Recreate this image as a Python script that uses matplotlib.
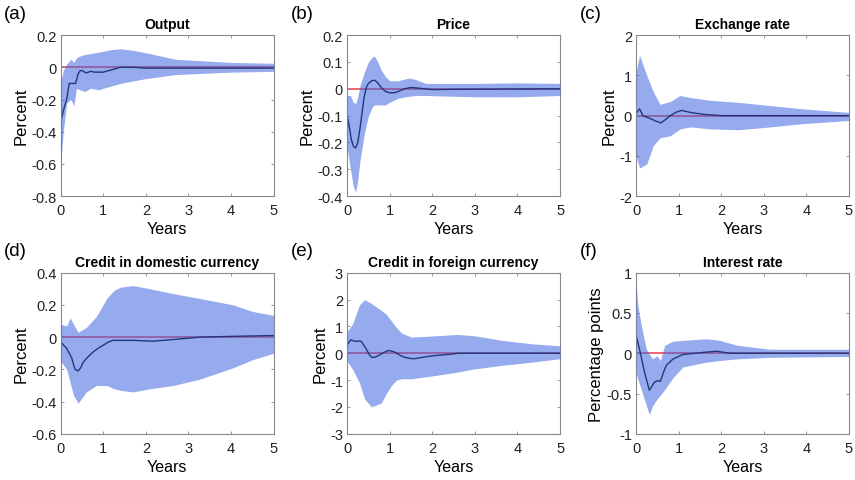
import numpy as np
import matplotlib.pyplot as plt

plt.rcParams['font.family'] = ['Liberation Sans', 'DejaVu Sans']

# Impulse responses (years after shock) with confidence bands
out_x = [0, 0.06, 0.14, 0.2, 0.3, 0.35, 0.41, 0.46, 0.5, 0.6, 0.7, 0.8, 1.0, 1.2, 1.4, 1.7, 2.0, 5.0]
out_y = [-0.34, -0.27, -0.2, -0.1, -0.1, -0.1, -0.04, -0.02, -0.02, -0.035, -0.025, -0.03, -0.03, -0.015, 0.0, 0.0, -0.005, -0.005]
out_bx = [0, 0.06, 0.14, 0.24, 0.31, 0.37, 0.45, 0.57, 0.7, 0.9, 1.0, 1.2, 1.4, 1.7, 2.0, 2.7, 4.0, 5.0]
out_hi = [-0.09, -0.02, 0.02, 0.05, 0.03, 0.06, 0.07, 0.08, 0.085, 0.095, 0.1, 0.11, 0.115, 0.105, 0.09, 0.05, 0.03, 0.025]
out_lo = [-0.6, -0.4, -0.22, -0.2, -0.24, -0.13, -0.14, -0.15, -0.13, -0.14, -0.13, -0.115, -0.1, -0.085, -0.07, -0.045, -0.03, -0.025]

prc_x = [0, 0.05, 0.1, 0.15, 0.2, 0.25, 0.3, 0.35, 0.4, 0.45, 0.5, 0.58, 0.65, 0.72, 0.8, 0.9, 1.0, 1.1,
         1.2, 1.35, 1.5, 1.7, 2.0, 2.5, 5.0]
prc_y = [-0.1, -0.14, -0.19, -0.215, -0.22, -0.2, -0.15, -0.09, -0.03, 0.005, 0.02, 0.03, 0.032, 0.022,
         0.005, -0.01, -0.015, -0.015, -0.01, 0.0, 0.005, 0.002, -0.003, -0.002, 0.0]
prc_bx = [0, 0.08, 0.14, 0.2, 0.25, 0.3, 0.4, 0.5, 0.6, 0.65, 0.72, 0.8, 0.9, 1.0, 1.2, 1.45, 1.6, 1.85,
          3.0, 4.0, 5.0]
prc_hi = [-0.025, -0.025, -0.05, -0.055, -0.03, 0.01, 0.06, 0.1, 0.12, 0.12, 0.1, 0.07, 0.045, 0.03,
          0.03, 0.04, 0.035, 0.02, 0.02, 0.022, 0.02]
prc_lo = [-0.22, -0.3, -0.36, -0.385, -0.34, -0.27, -0.17, -0.1, -0.065, -0.06, -0.06, -0.06, -0.06,
          -0.05, -0.035, -0.028, -0.025, -0.025, -0.03, -0.03, -0.025]

fx_x = [0, 0.08, 0.16, 0.33, 0.45, 0.58, 0.7, 0.8, 0.95, 1.07, 1.27, 1.6, 2.0, 5.0]
fx_y = [0.05, 0.17, 0.0, -0.07, -0.13, -0.18, -0.09, 0.0, 0.09, 0.13, 0.08, 0.03, 0.0, 0.0]
fx_bx = [0, 0.08, 0.25, 0.4, 0.56, 0.8, 1.03, 1.27, 1.75, 2.4, 3.15, 3.9, 5.0]
fx_hi = [1.1, 1.5, 1.0, 0.6, 0.28, 0.35, 0.5, 0.45, 0.38, 0.33, 0.25, 0.17, 0.08]
fx_lo = [-1.0, -1.3, -1.2, -0.75, -0.55, -0.5, -0.33, -0.28, -0.33, -0.35, -0.28, -0.2, -0.12]

dom_x = [0, 0.14, 0.26, 0.3, 0.34, 0.41, 0.47, 0.53, 0.65, 0.77, 0.9, 1.0, 1.12, 1.23, 1.7, 2.17, 2.64,
         3.27, 4.05, 5.0]
dom_y = [-0.03, -0.07, -0.13, -0.17, -0.2, -0.21, -0.19, -0.155, -0.12, -0.09, -0.065, -0.05, -0.03,
         -0.02, -0.02, -0.025, -0.015, 0.0, 0.005, 0.01]
dom_bx = [0, 0.14, 0.22, 0.3, 0.41, 0.6, 0.84, 0.95, 1.08, 1.25, 1.4, 1.7, 2.1, 2.64, 3.27, 4.05, 4.5, 5.0]
dom_hi = [0.08, 0.07, 0.12, 0.08, 0.03, 0.06, 0.13, 0.18, 0.24, 0.29, 0.31, 0.32, 0.3, 0.27, 0.24, 0.2,
          0.16, 0.135]
dom_lo = [-0.15, -0.2, -0.28, -0.36, -0.41, -0.34, -0.3, -0.3, -0.3, -0.32, -0.33, -0.34, -0.32, -0.3,
          -0.26, -0.19, -0.14, -0.1]

for_x = [0, 0.08, 0.17, 0.33, 0.45, 0.52, 0.58, 0.65, 0.72, 0.85, 0.96, 1.05, 1.12, 1.25, 1.35, 1.5,
         1.59, 1.98, 2.46, 2.6, 5.0]
for_y = [0.3, 0.5, 0.45, 0.45, 0.15, -0.05, -0.15, -0.15, -0.1, 0.02, 0.1, 0.08, 0.04, -0.08, -0.15,
         -0.2, -0.2, -0.1, -0.03, 0.0, 0.0]
for_bx = [0, 0.13, 0.29, 0.41, 0.57, 0.8, 0.92, 1.04, 1.16, 1.28, 1.51, 2.06, 2.6, 3.0, 3.64, 4.35, 5.0]
for_hi = [0.8, 1.1, 1.8, 2.0, 1.85, 1.6, 1.45, 1.2, 0.95, 0.75, 0.6, 0.65, 0.7, 0.65, 0.48, 0.35, 0.28]
for_lo = [-0.3, -0.6, -1.1, -1.7, -2.0, -1.85, -1.5, -1.2, -1.0, -0.95, -0.95, -0.83, -0.7, -0.58, -0.45,
          -0.33, -0.2]

int_x = [0, 0.08, 0.2, 0.31, 0.43, 0.51, 0.57, 0.64, 0.71, 0.87, 1.1, 1.57, 1.89, 2.2, 5.0]
int_y = [0.22, 0.05, -0.24, -0.46, -0.36, -0.34, -0.35, -0.24, -0.15, -0.07, -0.015, 0.01, 0.025, 0.0, 0.0]
int_bx = [0, 0.04, 0.12, 0.24, 0.31, 0.39, 0.49, 0.57, 0.67, 0.87, 1.1, 1.65, 1.97, 2.36, 3.15, 5.0]
int_hi = [0.85, 0.6, 0.35, 0.05, -0.01, -0.07, -0.03, -0.09, 0.1, 0.15, 0.16, 0.18, 0.16, 0.1, 0.05, 0.05]
int_lo = [-0.24, -0.32, -0.45, -0.65, -0.76, -0.65, -0.57, -0.52, -0.45, -0.3, -0.17, -0.11, -0.09, -0.07,
          -0.05, -0.04]

panels = [
    ('(a)', 'Output', 'Percent', out_x, out_y, out_bx, out_hi, out_lo,
     (-0.8, 0.2), [-0.8, -0.6, -0.4, -0.2, 0, 0.2]),
    ('(b)', 'Price', 'Percent', prc_x, prc_y, prc_bx, prc_hi, prc_lo,
     (-0.4, 0.2), [-0.4, -0.3, -0.2, -0.1, 0, 0.1, 0.2]),
    ('(c)', 'Exchange rate', 'Percent', fx_x, fx_y, fx_bx, fx_hi, fx_lo,
     (-2, 2), [-2, -1, 0, 1, 2]),
    ('(d)', 'Credit in domestic currency', 'Percent', dom_x, dom_y, dom_bx, dom_hi, dom_lo,
     (-0.6, 0.4), [-0.6, -0.4, -0.2, 0, 0.2, 0.4]),
    ('(e)', 'Credit in foreign currency', 'Percent', for_x, for_y, for_bx, for_hi, for_lo,
     (-3, 3), [-3, -2, -1, 0, 1, 2, 3]),
    ('(f)', 'Interest rate', 'Percentage points', int_x, int_y, int_bx, int_hi, int_lo,
     (-1, 1), [-1, -0.5, 0, 0.5, 1]),
]

lefts = [0.071, 0.406, 0.744]
bottoms = [0.590, 0.096]
w, h = 0.249, 0.335

fig = plt.figure(figsize=(8.55, 4.81), dpi=100)

for i, (tag, title, ylab, lx, ly, bx, hi, lo, ylim, yt) in enumerate(panels):
    ax = fig.add_axes([lefts[i % 3], bottoms[i // 3], w, h])
    ax.axhline(0, color='#ee3b48', lw=1.1, zorder=1)
    ax.plot(lx, ly, color='black', lw=1.0, zorder=2)
    ax.fill_between(bx, lo, hi, color='#3f66e0', alpha=0.55, lw=0, zorder=3)
    ax.set_xlim(0, 5)
    ax.set_ylim(*ylim)
    ax.set_xticks([0, 1, 2, 3, 4, 5])
    ax.set_yticks(yt)
    ax.set_yticklabels([f'{v:g}' for v in yt])
    ax.tick_params(direction='in', length=2.5, width=0.6, top=True, right=True,
                   labelsize=10.5, colors='#888888', labelcolor='#222222', pad=3)
    ax.tick_params(axis='x', pad=5)
    for s in ax.spines.values():
        s.set_color('#888888')
        s.set_linewidth(0.8)
    ax.set_title(title, fontsize=10, fontweight='bold', pad=5)
    ax.set_xlabel('Years', fontsize=11.5, labelpad=3)
    ax.set_ylabel(ylab, fontsize=12, labelpad=2)
    pos = ax.get_position()
    fig.text(pos.x0 - 0.066, pos.y1 + 0.028, tag, fontsize=13.5, ha='left', va='bottom')

fig.savefig('out.png', dpi=100)
